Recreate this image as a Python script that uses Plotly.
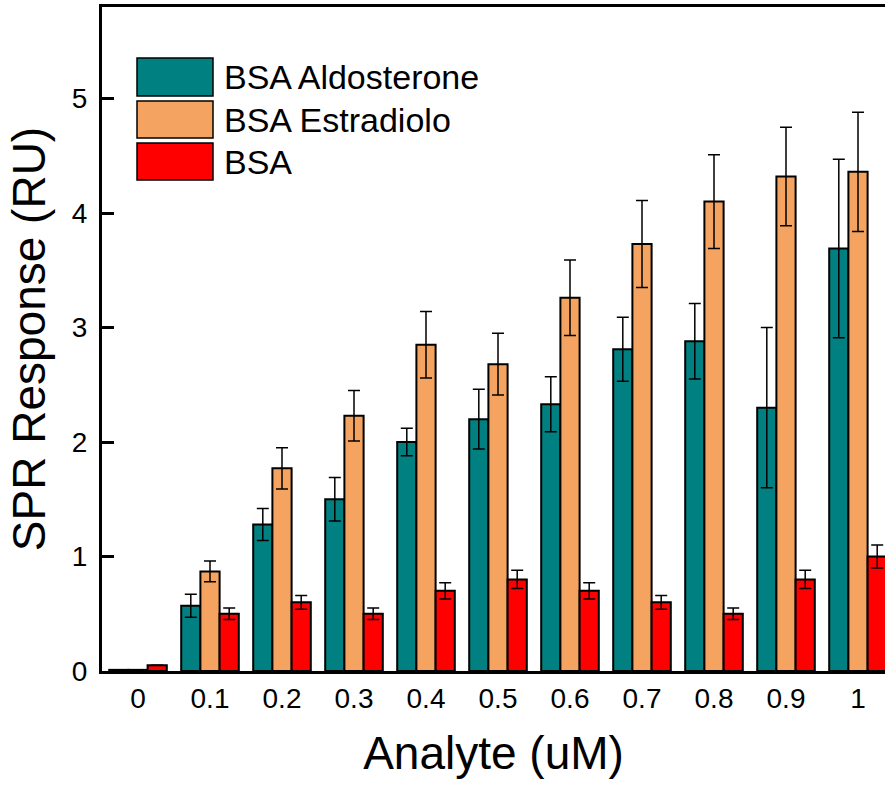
import plotly.graph_objects as go

categories = ["0", "0.1", "0.2", "0.3", "0.4", "0.5", "0.6", "0.7", "0.8", "0.9", "1"]
series_names = ["BSA Aldosterone", "BSA Estradiolo", "BSA"]
aldosterone = [0.01, 0.57, 1.28, 1.50, 2.00, 2.20, 2.33, 2.81, 2.88, 2.30, 3.69]
aldosterone_err = [0.0, 0.10, 0.14, 0.19, 0.12, 0.26, 0.24, 0.28, 0.33, 0.70, 0.78]
estradiolo = [0.01, 0.87, 1.77, 2.23, 2.85, 2.68, 3.26, 3.73, 4.10, 4.32, 4.36]
estradiolo_err = [0.0, 0.09, 0.18, 0.22, 0.29, 0.27, 0.33, 0.38, 0.41, 0.43, 0.52]
bsa = [0.05, 0.50, 0.60, 0.50, 0.70, 0.80, 0.70, 0.60, 0.50, 0.80, 1.00]
bsa_err = [0.0, 0.05, 0.06, 0.05, 0.07, 0.08, 0.07, 0.06, 0.05, 0.08, 0.10]
y_ticks = [0, 1, 2, 3, 4, 5]

colors = ["#008080", "#F4A460", "#FF0000"]
FONT = "Arial, 'Liberation Sans', sans-serif"

fig = go.Figure()
for name, vals, errs, col in zip(series_names, [aldosterone, estradiolo, bsa],
                                 [aldosterone_err, estradiolo_err, bsa_err], colors):
    fig.add_trace(go.Bar(
        x=list(range(len(categories))), y=vals, name=name,
        marker=dict(color=col, line=dict(color="black", width=2)),
        error_y=dict(type="data", array=errs, visible=True, color="black",
                     thickness=1.5, width=6),
        showlegend=False,
    ))

fig.update_layout(
    width=885, height=788,
    margin=dict(l=102, r=0, t=7, b=117),
    paper_bgcolor="white", plot_bgcolor="white",
    barmode="group", bargap=0.2, bargroupgap=0,
    font=dict(family=FONT, color="black", size=28),
    xaxis=dict(
        range=[-0.5, 10.375], tickmode="array",
        tickvals=list(range(len(categories))), ticktext=categories,
        showline=True, linecolor="black", linewidth=3, mirror=True,
        ticks="", showgrid=False, zeroline=False,
        tickfont=dict(size=28), ticklabelstandoff=0,
        title=dict(text="Analyte (uM)", font=dict(size=46), standoff=25),
    ),
    yaxis=dict(
        range=[0, 5.8], tickmode="array", tickvals=y_ticks,
        showline=True, linecolor="black", linewidth=3, mirror=False,
        ticks="inside", ticklen=12, tickwidth=3, tickcolor="black",
        showgrid=False, zeroline=False,
        tickfont=dict(size=28), ticklabelstandoff=6,
        title=dict(text="SPR Response (RU)", font=dict(size=46), standoff=12),
    ),
    yaxis2=dict(
        overlaying="y", side="right", range=[0, 5.8], tickmode="array",
        tickvals=y_ticks, showticklabels=False, ticks="inside", ticklen=8,
        tickwidth=3, tickcolor="black", showline=False, showgrid=False,
        zeroline=False,
    ),
)

# legend drawn as boxes + text (pixel positions converted to paper coords)
L, R, T, B = 102, 885, 7, 671
def px(x):
    return (x - L) / (R - L)
def py(y):
    return (B - y) / (B - T)

boxes = [(58, 96), (101, 138), (143, 180)]
for (y0, y1), col, name in zip(boxes, colors, series_names):
    fig.add_shape(type="rect", xref="paper", yref="paper",
                  x0=px(137), x1=px(213), y0=py(y1), y1=py(y0),
                  fillcolor=col, line=dict(color="black", width=1.5))
    fig.add_annotation(xref="paper", yref="paper", x=px(222), y=py((y0 + y1) / 2),
                       text=name, showarrow=False, xanchor="left", yanchor="middle",
                       font=dict(size=34, family=FONT, color="black"))

fig.write_html("out.html")
